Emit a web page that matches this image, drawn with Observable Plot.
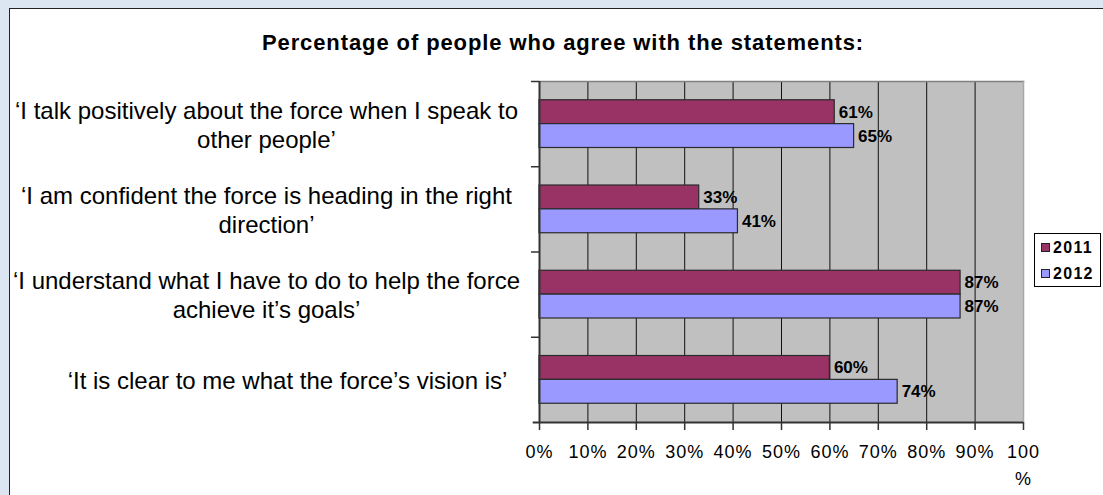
<!DOCTYPE html>
<html>
<head>
<meta charset="utf-8">
<script src="https://cdn.jsdelivr.net/npm/d3@7"></script>
<script src="https://cdn.jsdelivr.net/npm/@observablehq/plot@0.6"></script>
<style>
  html, body { margin: 0; padding: 0; width: 1103px; height: 495px; overflow: hidden; background: #dce6f2; font-family: "Liberation Sans", Arial, sans-serif; }
  #panel { position: absolute; left: 9px; top: 8px; width: 1200px; height: 600px; background: #fff; border: 1px solid #222; box-sizing: border-box; }
  #title { position: absolute; left: 0; top: 30px; width: 1126px; text-align: center; font-weight: bold; font-size: 22px; letter-spacing: 0.9px; color: #000; }
  #chart { position: absolute; left: 0; top: 0; }
  #chart g[aria-label="x-axis tick label"] text { letter-spacing: 1px; }
  #legend { position: absolute; left: 1034px; top: 233px; width: 67px; height: 54px; box-sizing: border-box; border: 1px solid #000; background: #fff; font-weight: bold; font-size: 16px; letter-spacing: 1.3px; }
  .item { position: absolute; left: 6px; height: 18px; line-height: 18px; }
  .sw { display: inline-block; width: 7px; height: 7px; border: 1px solid #222; margin-right: 3px; vertical-align: 1px; }
</style>
</head>
<body>
<div id="panel"></div>
<div id="title">Percentage of people who agree with the statements:</div>
<div id="chart"></div>
<div id="legend"></div>
<script>
const categories = [
  "‘I talk positively about the force when I speak to\nother people’",
  "‘I am confident the force is heading in the right\ndirection’",
  "‘I understand what I have to do to help the force\nachieve it’s goals’",
  "‘It is clear to me what the force’s vision is’"
];
const series = ["2011", "2012"];
const values2011 = [61, 33, 87, 60];
const values2012 = [65, 41, 87, 74];
const xTicks = [0, 10, 20, 30, 40, 50, 60, 70, 80, 90, 100];
const colors = ["#993366", "#9999ff"];

const barFrac = 0.28;
const rows = [];
categories.forEach((c, i) => {
  rows.push({cat: c, i, series: series[0], value: values2011[i], y1: i - barFrac, y2: i});
  rows.push({cat: c, i, series: series[1], value: values2012[i], y1: i, y2: i + barFrac});
});
const boundaries = categories.map((_, i) => i - 0.5);
const bottomEdge = categories.length - 0.5;
const gridTicks = xTicks.filter(t => t > 0 && t < 100);

const font = '"Liberation Sans", Arial, sans-serif';

const chart = Plot.plot({
  width: 1103,
  height: 495,
  marginLeft: 539,
  marginRight: 80,
  marginTop: 81,
  marginBottom: 73,
  style: {background: "transparent", fontFamily: font, color: "#000", overflow: "visible"},
  x: {domain: [0, 100]},
  y: {domain: [-0.5, categories.length - 0.5], reverse: true},
  color: {domain: series, range: colors},
  marks: [
    Plot.frame({fill: "#c0c0c0", stroke: null}),
    Plot.ruleX(gridTicks, {stroke: "#111", strokeWidth: 1}),
    Plot.frame({anchor: "top", stroke: "#808080", strokeWidth: 1.5}),
    Plot.frame({anchor: "right", stroke: "#a8a8a8", strokeWidth: 1.5}),
    Plot.rect(rows, {x1: 0, x2: "value", y1: "y1", y2: "y2", fill: "series", stroke: "#2a2a2a", strokeWidth: 1.2}),
    Plot.ruleX([0], {stroke: "#333", strokeWidth: 2}),
    Plot.ruleY([bottomEdge], {x1: -1.3, x2: 100, stroke: "#333", strokeWidth: 2}),
    Plot.ruleY(boundaries, {x1: -1.65, x2: 0, stroke: "#333", strokeWidth: 1.5}),
    Plot.text(rows, {
      x: "value",
      y: d => (d.y1 + d.y2) / 2,
      text: d => d.value + "%",
      textAnchor: "start",
      dx: 4,
      fontWeight: "bold",
      fontSize: 17,
      fill: "#000"
    }),
    Plot.axisX({
      ticks: xTicks,
      tickFormat: d => d === 100 ? "100\n%" : d + "%",
      tickSize: 8,
      tickPadding: 8,
      fontSize: 18,
      lineHeight: 1.5,
      stroke: "#333",
      strokeWidth: 1.5,
      label: null
    }),
    Plot.axisY({
      ticks: [0, 1, 2],
      tickFormat: i => categories[i],
      tickSize: 0,
      tickPadding: 273,
      textAnchor: "middle",
      fontSize: 24,
      lineHeight: 1.2,
      label: null
    }),
    Plot.axisY({
      ticks: [3],
      tickFormat: i => categories[i],
      tickSize: 0,
      tickPadding: 252,
      textAnchor: "middle",
      fontSize: 24,
      lineHeight: 1.2,
      label: null
    })
  ]
});
document.getElementById("chart").appendChild(chart);

const legend = document.getElementById("legend");
series.forEach((s, k) => {
  const item = document.createElement("div");
  item.className = "item";
  item.style.top = (5 + k * 26) + "px";
  const sw = document.createElement("span");
  sw.className = "sw";
  sw.style.background = colors[k];
  item.appendChild(sw);
  item.appendChild(document.createTextNode(s));
  legend.appendChild(item);
});
</script>
</body>
</html>
